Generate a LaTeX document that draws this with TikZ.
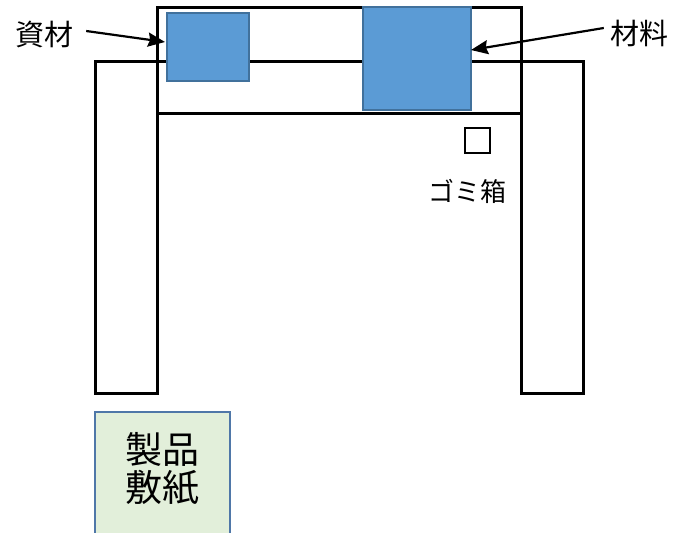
\documentclass[tikz,border=0pt]{standalone}
\usepackage{fontspec}
\newfontfamily\jp{Noto Sans CJK JP}
\usetikzlibrary{arrows.meta,calc}
\definecolor{blueFill}{HTML}{5B9BD5}
\definecolor{blueEdge}{HTML}{41719C}
\definecolor{greenFill}{HTML}{E2EFDA}
\definecolor{greenEdge}{HTML}{4F77A8}
\tikzset{
  frameline/.style={draw=black, line width=3pt},
  blockbox/.style={frameline, fill=white, inner sep=0pt, outer sep=0pt},
  bluebox/.style={draw=blueEdge, fill=blueFill, line width=1.5pt, inner sep=0pt, outer sep=0pt},
  lbl/.style={font=\jp\fontsize{29}{31}\selectfont, inner sep=0pt},
  pointer/.style={line width=2.2pt, -{Stealth[length=17pt,width=14pt,inset=2pt]}, shorten >=0pt}
}
\begin{document}
\begin{tikzpicture}[x=1pt,y=-1pt]
\useasboundingbox (0,0) rectangle (673,533);
% legs
\node[blockbox, minimum width=62pt, minimum height=332pt] (leftleg) at (126,227) {};
\node[blockbox, minimum width=62pt, minimum height=332pt] (rightleg) at (552,227) {};
% top frame
\node[blockbox, minimum width=364pt, minimum height=106pt] (frame) at (339,60) {};
\coordinate (midL) at (157,61);
\coordinate (midR) at (521,61);
\draw[frameline] (midL) -- (midR);
% blue boxes
\node[bluebox, minimum width=82pt, minimum height=68pt] (shizaibox) at (208,47) {};
\node[bluebox, minimum width=108pt, minimum height=103pt] (zairyoubox) at (417,58.5) {};
% trash box
\node[draw=black, line width=2pt, fill=white, minimum width=25pt, minimum height=25pt, inner sep=0pt] (trash) at (477,140) {};
\node[lbl, font=\jp\fontsize{26}{28}\selectfont] (gomi) at (467,191) {ゴミ箱};
% labels
\node[lbl] (shizai) at (45,35) {資材};
\node[lbl] (zairyou) at (639,33) {材料};
\coordinate (shizaitip) at (165,42);
\coordinate (zairyoutip) at (471,50);
\draw[pointer] ($(shizai.east)+(12,-4)$) -- (shizaitip);
\draw[pointer] ($(zairyou.west)+(-6,-5)$) -- (zairyoutip);
% product sheet
\fill[greenFill] (94,411) rectangle (231,540);
\draw[draw=greenEdge, line width=2pt] (95,540) -- (95,412) -- (230,412) -- (230,540);
\node[font=\jp\fontsize{37}{38}\selectfont, align=center, inner sep=0pt] (seihin) at (162,469) {製品\\敷紙};
\end{tikzpicture}
\end{document}
